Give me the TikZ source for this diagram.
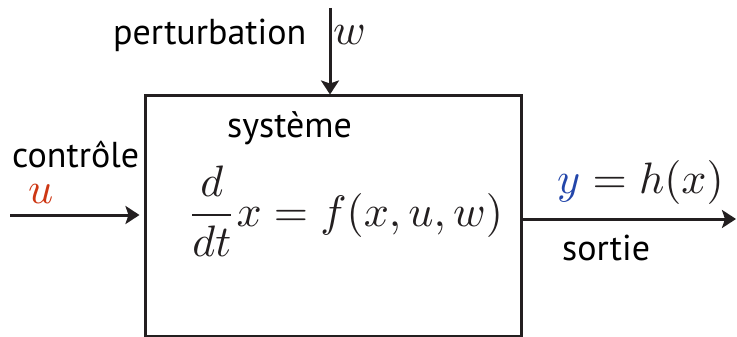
\documentclass[tikz,border=0pt]{standalone}
\usepackage{graphicx}
\usepackage{fontspec}
\setmainfont{PT Sans}
\usetikzlibrary{arrows.meta}
\definecolor{ink}{RGB}{35,31,32}
\definecolor{ured}{RGB}{205,55,20}
\definecolor{yblue}{RGB}{35,70,170}
\newcommand{\mathbigx}[1]{\scalebox{4.4}{#1}}
\tikzset{
  lab/.style={inner sep=0pt, font=\fontsize{36}{42}\selectfont, text=black},
  mth/.style={inner sep=0pt, text=ink},
  sig/.style={draw=ink, line width=3pt, -{Stealth[length=14pt,width=18pt,inset=3pt]}},
  sysbox/.style={draw=ink, line width=3pt, inner sep=0pt, minimum width=376pt, minimum height=240pt}
}
\begin{document}
\begin{tikzpicture}[x=1pt,y=-1pt]
\useasboundingbox (0,0) rectangle (737,337);
\node[sysbox] (sys) at (333,216) {};
\node[lab, anchor=base west] (pert) at (113,45) {perturbation};
\node[mth, anchor=base west] (w) at (333,45) {\mathbigx{$w$}};
\node[lab, anchor=base west] (syst) at (227,137) {système};
\node[lab, anchor=base west] (ctrl) at (12,167) {contrôle};
\node[mth, anchor=base west] (u) at (28,203) {\mathbigx{$\color{ured}u$}};
\node[mth, anchor=base west] (eq) at (187,226) {\mathbigx{$\displaystyle\frac{d}{dt}x = f(x,u,w)$}};
\node[mth, anchor=base west] (out) at (557,193) {\mathbigx{$\color{yblue}y\color{ink} = h(x)$}};
\node[lab, anchor=base west] (sort) at (562,260) {sortie};
\coordinate (ptop) at (330,8);
\coordinate (uin) at (10,215);
\coordinate (yout) at (736,219);
\draw[sig] (ptop) -- (ptop |- sys.north);
\draw[sig] (uin) -- ([xshift=-4pt]uin -| sys.west);
\draw[sig] (yout -| sys.east) -- (yout);
\end{tikzpicture}
\end{document}
